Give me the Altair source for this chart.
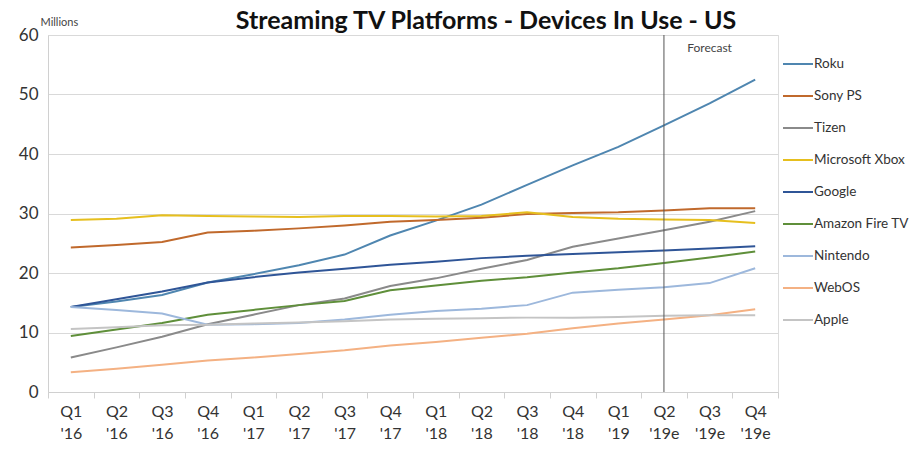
import altair as alt
import pandas as pd

quarters = ["Q1 '16", "Q2 '16", "Q3 '16", "Q4 '16", "Q1 '17", "Q2 '17", "Q3 '17", "Q4 '17",
            "Q1 '18", "Q2 '18", "Q3 '18", "Q4 '18", "Q1 '19", "Q2 '19e", "Q3 '19e", "Q4 '19e"]

roku = [14.3, 15.2, 16.3, 18.4, 19.8, 21.3, 23.1, 26.3, 28.8, 31.5, 34.8, 38.1, 41.2, 44.8, 48.5, 52.5]
sony = [24.3, 24.7, 25.2, 26.8, 27.1, 27.5, 28.0, 28.6, 28.9, 29.3, 29.9, 30.1, 30.2, 30.5, 30.9, 30.9]
tizen = [5.8, 7.5, 9.3, 11.4, 13.0, 14.6, 15.7, 17.8, 19.1, 20.7, 22.2, 24.4, 25.8, 27.2, 28.6, 30.4]
xbox = [28.9, 29.1, 29.7, 29.6, 29.5, 29.4, 29.6, 29.6, 29.5, 29.6, 30.2, 29.4, 29.1, 29.0, 28.9, 28.4]
google = [14.3, 15.6, 16.9, 18.4, 19.3, 20.1, 20.7, 21.4, 21.9, 22.5, 22.9, 23.2, 23.5, 23.8, 24.1, 24.5]
amazon = [9.4, 10.5, 11.6, 13.0, 13.8, 14.6, 15.3, 17.1, 17.9, 18.7, 19.3, 20.1, 20.8, 21.7, 22.6, 23.6]
nintendo = [14.3, 13.8, 13.2, 11.3, 11.4, 11.6, 12.2, 13.0, 13.6, 14.0, 14.6, 16.7, 17.2, 17.6, 18.3, 20.8]
webos = [3.3, 3.9, 4.6, 5.3, 5.8, 6.4, 7.0, 7.8, 8.4, 9.1, 9.8, 10.7, 11.5, 12.2, 12.9, 13.9]
apple = [10.6, 10.9, 11.2, 11.3, 11.5, 11.7, 11.9, 12.2, 12.3, 12.4, 12.5, 12.5, 12.6, 12.8, 12.9, 12.9]

series_names = ["Roku", "Sony PS", "Tizen", "Microsoft Xbox", "Google", "Amazon Fire TV",
                "Nintendo", "WebOS", "Apple"]
series_values = [roku, sony, tizen, xbox, google, amazon, nintendo, webos, apple]
series_colors = ["#4f86b0", "#c0692c", "#8a8a8a", "#e6bf1e", "#2f5597", "#5f8f3a",
                 "#9db8dc", "#f4b183", "#c4c4c4"]

forecast_start = ["Q2 '19e"]
forecast_label = ["Q3 '19e"]

rows = []
for name, vals in zip(series_names, series_values):
    for q, v in zip(quarters, vals):
        rows.append({"Quarter": q, "Platform": name, "Value": v})
df = pd.DataFrame(rows)

FONT = "Lato"

x_enc = alt.X("Quarter:N", sort=quarters, bandPosition=0.5,
              scale=alt.Scale(type="band", domain=quarters, paddingInner=0, paddingOuter=0),
              axis=alt.Axis(title=None, labelAngle=0, labelExpr="split(datum.label, ' ')",
                            labelFontSize=16, labelColor="#333333", labelFont=FONT,
                            labelLineHeight=22, labelPadding=5,
                            tickBand="extent", tickSize=6, tickColor="#d0d0d0",
                            domainColor="#d0d0d0", grid=False))

lines = alt.Chart(df).mark_line(strokeWidth=2).encode(
    x=x_enc,
    y=alt.Y("Value:Q", scale=alt.Scale(domain=[0, 60], nice=False),
            axis=alt.Axis(values=[0, 10, 20, 30, 40, 50, 60], title="Millions",
                          titleAngle=0, titleAlign="left", titleBaseline="bottom",
                          titleX=-8, titleY=-8, titleFontSize=11, titleFontWeight="normal",
                          titleFont=FONT, titleColor="#444444",
                          labelFontSize=17, labelFont=FONT, labelColor="#333333",
                          labelPadding=10, ticks=False, domainColor="#d0d0d0",
                          gridColor="#d9d9d9")),
    color=alt.Color("Platform:N", sort=series_names,
                    scale=alt.Scale(domain=series_names, range=series_colors),
                    legend=alt.Legend(title=None, orient="none", legendX=734, legendY=13,
                                      symbolType="stroke", symbolSize=900,
                                      symbolStrokeWidth=2, labelFontSize=13.5, labelFont=FONT,
                                      labelColor="#333333", rowPadding=9, padding=0,
                                      labelOffset=0)),
)

rule = alt.Chart(pd.DataFrame({"Quarter": forecast_start})).mark_rule(
    color="#555555", strokeWidth=1).encode(x=alt.X("Quarter:N", sort=quarters, bandPosition=0.5))

ftext = alt.Chart(pd.DataFrame({"Quarter": forecast_label, "label": ["Forecast"]})).mark_text(
    font=FONT, fontSize=12, color="#444444", baseline="middle").encode(
    x=alt.X("Quarter:N", sort=quarters, bandPosition=0.5),
    y=alt.value(13),
    text="label:N")

chart = alt.layer(lines, rule, ftext).properties(
    width=730, height=357,
    title=alt.TitleParams("Streaming TV Platforms - Devices In Use - US", font=FONT,
                          fontSize=25, fontWeight="bold", color="#111111",
                          anchor="middle", dx=73, dy=24, offset=6),
    autosize=alt.AutoSizeParams(type="none"),
    padding={"left": 40, "top": 27, "right": 134, "bottom": 53},
).configure_view(stroke=None).configure(background="white")

chart.save("out.html", embed_options={"renderer": "svg", "actions": False})
